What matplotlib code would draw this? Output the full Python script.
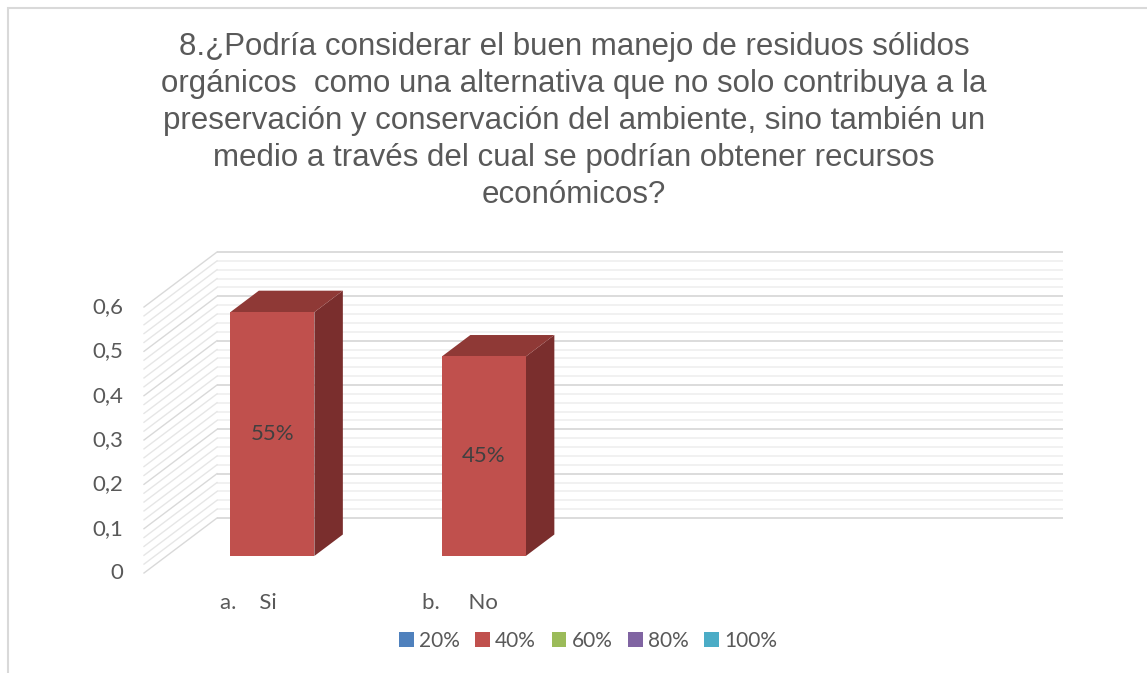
import numpy as np
import matplotlib
matplotlib.use("Agg")
import matplotlib.pyplot as plt
from matplotlib.patches import Polygon, Rectangle

# ---- data ----
categories = ["a.    Si", "b.     No", "", ""]
values = [0.55, 0.45, None, None]
value_labels = ["55%", "45%", "", ""]
legend_labels = ["20%", "40%", "60%", "80%", "100%"]
legend_colors = ["#4F81BD", "#C0504D", "#9BBB59", "#8064A2", "#4BACC6"]
yticks = [0, 0.1, 0.2, 0.3, 0.4, 0.5, 0.6]
ytick_labels = ["0", "0,1", "0,2", "0,3", "0,4", "0,5", "0,6"]
title = ("8.¿Podría considerar el buen manejo de residuos sólidos\n"
         "orgánicos  como una alternativa que no solo contribuya a la\n"
         "preservación y conservación del ambiente, sino también un\n"
         "medio a través del cual se podrían obtener recursos\n"
         "económicos?")

W, H = 1147, 673
fig = plt.figure(figsize=(W / 100, H / 100), dpi=100)
ax = fig.add_axes([0, 0, 1, 1])

# axes scale: category units horizontally, value units vertically
px_per_cat = 211.5
px_per_val = 443.3
x_left_px = 144.0
y_zero_px = 573.0
ax.set_xlim(-0.5 - x_left_px / px_per_cat, -0.5 + (W - x_left_px) / px_per_cat)
ax.set_ylim((y_zero_px - H) / px_per_val, y_zero_px / px_per_val)
ax.axis("off")

# depth offset (in data units) of the back wall
DX = 73 / px_per_cat
DY = 55 / px_per_val
ncat = len(categories)
x0, x1 = -0.5, ncat - 0.5

# gridlines on back wall and side wall
for k in range(0, 31):
    v = k * 0.02
    major = (k % 5 == 0)
    col = "#D9D9D9" if major else "#F0F0F0"
    ax.plot([x0 + DX, x1 + DX], [v + DY, v + DY], color=col, lw=1.3, zorder=1,
            solid_capstyle="butt")
    ax.plot([x0, x0 + DX], [v, v + DY], color="#D9D9D9" if major else "#E6E6E6",
            lw=1.0, zorder=1)

# bars (pseudo-3D)
bw = 84 / px_per_cat
d_front, d_back = 0.31, 0.70
for i, (v, lab) in enumerate(zip(values, value_labels)):
    if v is None:
        continue
    xf = i - bw / 2 + d_front * DX
    yf = d_front * DY
    ddx = (d_back - d_front) * DX
    ddy = (d_back - d_front) * DY
    ax.add_patch(Polygon([(xf + bw, yf), (xf + bw + ddx, yf + ddy),
                          (xf + bw + ddx, yf + v + ddy), (xf + bw, yf + v)],
                         closed=True, facecolor="#7A2E2D", edgecolor="none", zorder=3))
    ax.add_patch(Polygon([(xf, yf + v), (xf + bw, yf + v),
                          (xf + bw + ddx, yf + v + ddy), (xf + ddx, yf + v + ddy)],
                         closed=True, facecolor="#8F3936", edgecolor="none", zorder=3))
    ax.add_patch(Rectangle((xf, yf), bw, v, facecolor="#C0504D",
                           edgecolor="none", zorder=4))
    ax.text(xf + bw / 2, yf + v / 2, lab, ha="center", va="center",
            fontsize=16, color="#404040", family="Lato", zorder=5)

# y tick labels
for t, tl in zip(yticks, ytick_labels):
    ax.text(x0 - 21 / px_per_cat, t, tl, ha="right", va="center",
            fontsize=16, color="#595959", family="Lato")

# category labels
for i, c in enumerate(categories):
    if c:
        ax.text(i - 0.005, -30 / px_per_val, c, ha="center", va="center",
                fontsize=16, color="#595959", family="Lato")

# title
fig.text(574 / W, 1 - 121 / H, title, ha="center", va="center",
         fontsize=22.5, color="#595959", family="Liberation Sans",
         linespacing=1.3)

# legend
handles = [Rectangle((0, 0), 1, 1, facecolor=c, edgecolor="none") for c in legend_colors]
leg = fig.legend(handles, legend_labels, loc="center", ncol=5,
                 bbox_to_anchor=(588 / W, 1 - 641 / H), frameon=False,
                 handlelength=0.7, handleheight=0.7, handletextpad=0.25,
                 columnspacing=0.75, prop={"family": "Lato", "size": 15})
for t in leg.get_texts():
    t.set_color("#595959")

# chart border
fig.add_artist(Rectangle((8 / W, -0.1), 1.2, 1 - 8.5 / H + 0.1,
                         transform=fig.transFigure, facecolor="none",
                         edgecolor="#D9D9D9", lw=1.5))

fig.savefig("out.png", dpi=100, facecolor="white")
